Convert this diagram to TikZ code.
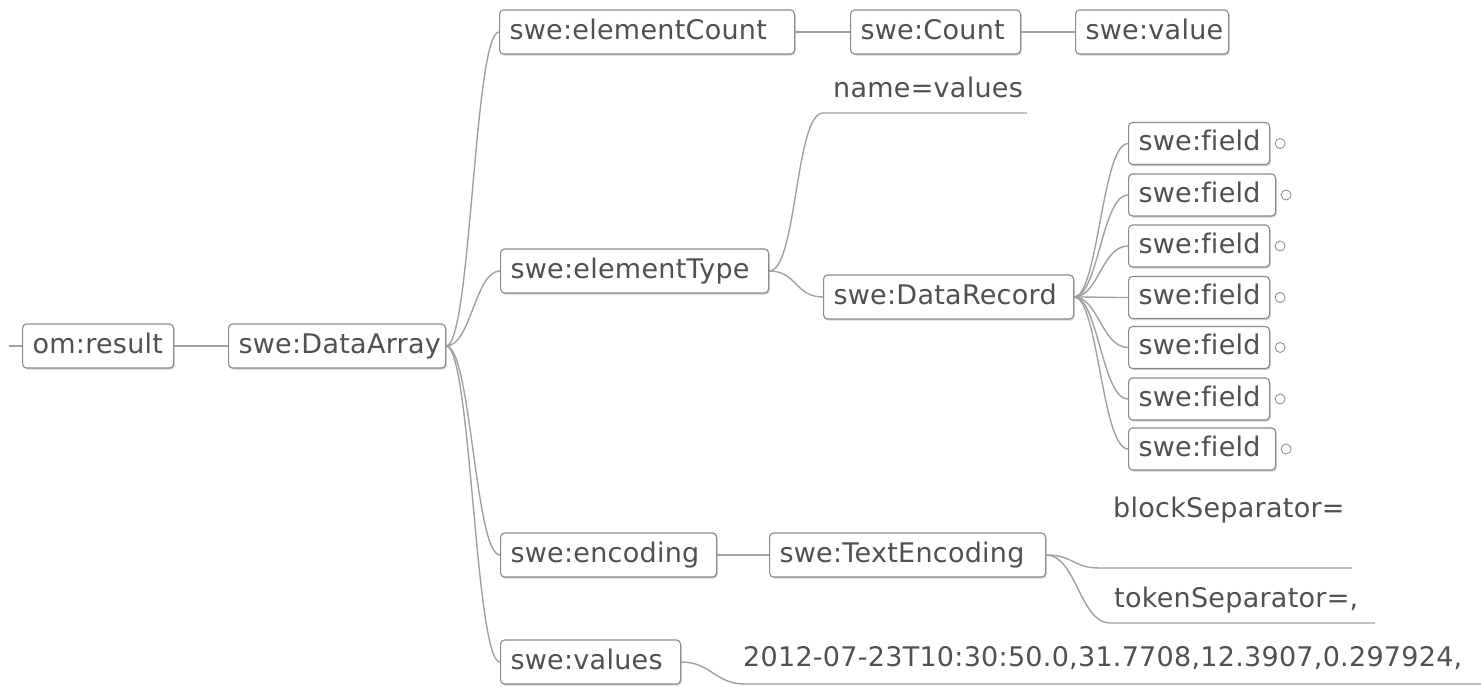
\documentclass[tikz,border=0pt]{standalone}
\usepackage{fontspec}
\setmainfont[LetterSpace=1.0, Ligatures=NoCommon]{DejaVu Sans}
\usetikzlibrary{shadows}
\definecolor{txt}{HTML}{505050}
\definecolor{frame}{HTML}{8A8A8A}
\definecolor{edge}{HTML}{A0A0A0}
% "field" written without the fi ligature
\newcommand\fieldname{swe:f\kern0pt ield}
\tikzset{
  mapbox/.style={draw=frame, line width=1.1pt, rounded corners=4pt, fill=white,
    anchor=west, inner xsep=10pt, inner ysep=0pt, minimum height=44pt,
    text height=20pt, text depth=6pt, align=left, text=txt,
    drop shadow={shadow xshift=1.2pt, shadow yshift=-1.5pt, fill=black, opacity=0.18}},
  fieldbox/.style={mapbox, minimum height=42pt},
  attr/.style={anchor=west, inner sep=0pt, text height=20pt, text depth=6pt, text=txt},
  link/.style={draw=edge, line width=1.4pt},
  fold/.style={circle, draw=frame, fill=white, line width=0.8pt, inner sep=0pt, minimum size=10pt}
}
\begin{document}
\begin{tikzpicture}[x=1pt, y=-1pt, font=\fontsize{27}{32}\selectfont]
\useasboundingbox (0,0) rectangle (1481,686);

% main chain
\node[mapbox, text width=131pt] (res) at (22,346) {om:result};
\node[mapbox, text width=197pt] (arr) at (228,346) {swe:DataArray};

% element count branch
\node[mapbox, text width=275pt] (ecount) at (499,32) {swe:elementCount};
\node[mapbox, text width=150pt] (count) at (850,32) {swe:Count};
\node[mapbox, text width=133pt] (val) at (1075,32) {swe:value};

% element type branch
\node[mapbox, text width=248pt] (etype) at (500,271) {swe:elementType};
\node[attr] (nv) at (833,90) {name=values};
\coordinate (nvA) at (823,113);
\coordinate (nvB) at (1027,113);
\node[mapbox, text width=230pt] (drec) at (823,297) {swe:DataRecord};

% record fields
\foreach \i/\y/\w in {1/143.5/121, 2/195/127, 3/246/121, 4/297.5/121, 5/347.5/121, 6/399/121, 7/449/127}{
  \node[fieldbox, text width=\w pt] (f\i) at (1128,\y) {\fieldname};
  \node[fold] (k\i) at ([xshift=10pt]f\i.east) {};
  \draw[link] (drec.east) .. controls +(24,0) and +(-26,0) .. (f\i.west);
}

% encoding branch
\node[mapbox, text width=196pt] (enc) at (500,555) {swe:encoding};
\node[mapbox, text width=256pt] (tenc) at (769,555) {swe:TextEncoding};
\node[attr] (bs) at (1113,510) {blockSeparator=};
\coordinate (bsA) at (1100,568);
\coordinate (bsB) at (1352,568);
\node[attr] (ts) at (1114,600) {tokenSeparator=,};
\coordinate (tsA) at (1110,623);
\coordinate (tsB) at (1375,623);

% values branch
\node[mapbox, text width=160pt] (vals) at (500,662) {swe:values};
\node[attr] (data) at (743,659) {2012-07-23T10:30:50.0,31.7708,12.3907,0.297924,};
\coordinate (dA) at (745,684);
\coordinate (dB) at (1481,684);

% connectors
\coordinate (stub) at (9,346);
\draw[link] (stub) -- (res.west);
\draw[link] (res.east) -- (arr.west);
\foreach \c in {ecount, etype, enc, vals}
  \draw[link] (arr.east) .. controls +(25,0) and +(-25,0) .. (\c.west);
\draw[link] (ecount.east) -- (count.west);
\draw[link] (count.east) -- (val.west);
\draw[link] (etype.east) .. controls +(28,0) and +(-28,0) .. (nvA) -- (nvB);
\draw[link] (etype.east) .. controls +(28,0) and +(-28,0) .. (drec.west);
\draw[link] (enc.east) -- (tenc.west);
\draw[link] (tenc.east) .. controls +(28,0) and +(-28,0) .. (bsA) -- (bsB);
\draw[link] (tenc.east) .. controls +(30,0) and +(-30,0) .. (tsA) -- (tsB);
\draw[link] (vals.east) .. controls +(30,0) and +(-30,0) .. (dA) -- (dB);
\end{tikzpicture}
\end{document}
